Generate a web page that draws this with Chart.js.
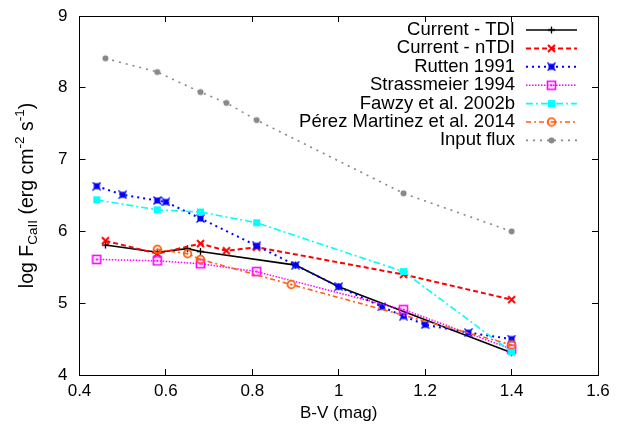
<!DOCTYPE html>
<html><head><meta charset="utf-8">
<script src="https://cdn.jsdelivr.net/npm/chart.js@4/dist/chart.umd.min.js"></script>
<style>html,body{margin:0;padding:0;background:#fff}#wrap{width:625px;height:431px}</style>
</head><body><div id="wrap"><canvas id="c" width="625" height="431"></canvas></div>
<script>
// ---- data ----
const xTicks = [0.4, 0.6, 0.8, 1, 1.2, 1.4, 1.6];
const yTicks = [4, 5, 6, 7, 8, 9];
const seriesNames = ["Current - TDI", "Current - nTDI", "Rutten 1991", "Strassmeier 1994",
  "Fawzy et al. 2002b", "Pérez Martinez et al. 2014", "Input flux"];
const tdiBV = [0.46, 0.58, 0.65, 0.68, 0.90, 1.00, 1.40];
const tdiF  = [5.81, 5.71, 5.76, 5.72, 5.53, 5.23, 4.31];
const ntdiBV = [0.46, 0.58, 0.68, 0.74, 0.81, 1.15, 1.40];
const ntdiF  = [5.87, 5.69, 5.83, 5.73, 5.78, 5.40, 5.05];
const ruttenBV = [0.44, 0.50, 0.58, 0.60, 0.68, 0.81, 0.90, 1.00, 1.10, 1.15, 1.20, 1.30, 1.40];
const ruttenF  = [6.63, 6.51, 6.43, 6.41, 6.18, 5.80, 5.53, 5.23, 4.95, 4.82, 4.70, 4.59, 4.50];
const strassBV = [0.44, 0.58, 0.68, 0.81, 1.15, 1.40];
const strassF  = [5.61, 5.59, 5.55, 5.44, 4.91, 4.36];
const fawzyBV = [0.44, 0.58, 0.68, 0.81, 1.15, 1.40];
const fawzyF  = [6.44, 6.30, 6.27, 6.12, 5.44, 4.32];
const perezBV = [0.58, 0.65, 0.68, 0.89, 1.40];
const perezF  = [5.75, 5.69, 5.61, 5.26, 4.42];
const inputBV = [0.46, 0.58, 0.68, 0.74, 0.81, 1.15, 1.40];
const inputF  = [8.41, 8.22, 7.94, 7.79, 7.55, 6.53, 6.00];

const FONT = "'Liberation Sans', Arial, Helvetica, sans-serif";

// ---- marker images ----
function mk(size, draw) {
  const c = document.createElement('canvas');
  c.width = size; c.height = size;
  const g = c.getContext('2d');
  draw(g, size / 2);
  return c;
}
const mPlus = mk(9, (g, h) => { g.strokeStyle = '#000'; g.lineWidth = 1.3;
  g.beginPath(); g.moveTo(1, h); g.lineTo(8, h); g.moveTo(h, 1); g.lineTo(h, 8); g.stroke(); });
const mX = mk(11, (g, h) => { g.strokeStyle = '#ff0000'; g.lineWidth = 2;
  g.beginPath(); g.moveTo(2, 2); g.lineTo(9, 9); g.moveTo(9, 2); g.lineTo(2, 9); g.stroke(); });
const mStar = mk(9, (g, h) => { g.fillStyle = '#0000ff'; g.fillRect(1.5, 1.5, 6, 6);
  g.strokeStyle = '#0000ff'; g.lineWidth = 1.2; g.beginPath();
  g.moveTo(0.5, 0.5); g.lineTo(8.5, 8.5); g.moveTo(8.5, 0.5); g.lineTo(0.5, 8.5); g.stroke(); });
const mOpenSq = mk(11, (g, h) => { g.strokeStyle = '#ff00ff'; g.lineWidth = 1.6;
  g.strokeRect(1.5, 1.5, 8, 8); g.fillStyle = '#ff00ff'; g.fillRect(4.5, 4.5, 2, 2); });
const mSq = mk(9, (g, h) => { g.fillStyle = '#00ffff'; g.fillRect(1, 1, 7, 7); });
const mOpenC = mk(11, (g, h) => { g.strokeStyle = '#ff6010'; g.lineWidth = 1.8;
  g.beginPath(); g.arc(h, h, 3.8, 0, Math.PI * 2); g.stroke();
  g.fillStyle = '#ff6010'; g.beginPath(); g.arc(h, h, 1, 0, Math.PI * 2); g.fill(); });
const mDot = mk(9, (g, h) => { g.fillStyle = '#888888';
  g.beginPath(); g.arc(h, h, 3, 0, Math.PI * 2); g.fill(); });

function pts(xs, ys) { return xs.map((x, i) => ({ x: x, y: ys[i] })); }

const styles = [
  { c: '#000000', w: 1.6, d: [], m: mPlus },
  { c: '#ff0000', w: 2, d: [5, 3], m: mX },
  { c: '#0000ff', w: 2, d: [2, 4], m: mStar },
  { c: '#ff00ff', w: 1.5, d: [1.5, 1.5], m: mOpenSq },
  { c: '#00ffff', w: 1.6, d: [7, 3, 2, 3], m: mSq },
  { c: '#ff6010', w: 1.6, d: [5, 3, 2, 3], m: mOpenC },
  { c: '#888888', w: 1.6, d: [2, 5], m: mDot }
];
const dataXY = [pts(tdiBV, tdiF), pts(ntdiBV, ntdiF), pts(ruttenBV, ruttenF), pts(strassBV, strassF),
  pts(fawzyBV, fawzyF), pts(perezBV, perezF), pts(inputBV, inputF)];

const datasets = dataXY.map((d, i) => ({
  label: seriesNames[i],
  data: d,
  borderColor: styles[i].c,
  backgroundColor: styles[i].c,
  borderWidth: styles[i].w,
  borderDash: styles[i].d,
  pointStyle: styles[i].m,
  pointRadius: 4,
  tension: 0,
  fill: false,
  order: 10 - i
}));

function fmt(v) { return String(+(+v).toFixed(1)); }

const axisCommon = {
  type: 'linear',
  grid: { display: true, drawOnChartArea: false, drawTicks: true, tickLength: -6, color: '#000', lineWidth: 1 },
  border: { display: true, color: '#000', width: 1 }
};

const chromePlugin = {
  id: 'chrome',
  afterDraw(chart) {
    const ctx = chart.ctx, a = chart.chartArea;
    ctx.save();
    ctx.fillStyle = '#000';
    // x title
    ctx.font = '17px ' + FONT;
    ctx.textAlign = 'center'; ctx.textBaseline = 'middle';
    ctx.fillText('B-V (mag)', (a.left + a.right) / 2, 413);
    // y title with sub/superscripts
    const parts = [
      ['log F', 19.5, 0], ['CaII', 13.5, 5], [' (erg cm', 19.5, 0], ['-2', 13.5, -8],
      [' s', 19.5, 0], ['-1', 13.5, -8], [')', 19.5, 0]
    ];
    let total = 0;
    parts.forEach(p => { ctx.font = p[1] + 'px ' + FONT; p.push(ctx.measureText(p[0]).width); total += p[3]; });
    ctx.translate(28, (a.top + a.bottom) / 2);
    ctx.rotate(-Math.PI / 2);
    ctx.textAlign = 'left'; ctx.textBaseline = 'middle';
    let x = -total / 2;
    parts.forEach(p => { ctx.font = p[1] + 'px ' + FONT; ctx.fillText(p[0], x, p[2]); x += p[3]; });
    ctx.restore();

    // legend
    ctx.save();
    ctx.font = '18.5px ' + FONT;
    ctx.textAlign = 'right'; ctx.textBaseline = 'middle';
    chart.data.datasets.forEach((ds, i) => {
      const y = 30 + i * 18.4;
      ctx.fillStyle = '#000';
      ctx.fillText(ds.label, 515, y);
      ctx.strokeStyle = ds.borderColor;
      ctx.lineWidth = ds.borderWidth;
      ctx.setLineDash(ds.borderDash);
      ctx.beginPath(); ctx.moveTo(526, y); ctx.lineTo(577, y); ctx.stroke();
      ctx.setLineDash([]);
      const m = ds.pointStyle;
      ctx.drawImage(m, 551.5 - m.width / 2, y - m.height / 2);
    });
    ctx.restore();
  }
};

function vFit(w) {
  return s => { s.width = w; s.paddingTop = 0; s.paddingBottom = 0; };
}

new Chart(document.getElementById('c'), {
  type: 'line',
  data: { datasets: datasets },
  options: {
    responsive: false,
    animation: false,
    events: [],
    layout: { padding: { left: 0, right: 27, top: 16, bottom: 0 } },
    plugins: { legend: { display: false }, tooltip: { enabled: false }, title: { display: false } },
    scales: {
      x: Object.assign({}, axisCommon, {
        position: 'bottom', min: 0.4, max: 1.6,
        afterBuildTicks: s => { s.ticks = xTicks.map(v => ({ value: v })); },
        afterFit: s => { s.height = 56; },
        ticks: { color: '#000', font: { family: FONT, size: 17 }, padding: 12, callback: v => fmt(v), maxRotation: 0, autoSkip: false }
      }),
      x2: Object.assign({}, axisCommon, {
        position: 'top', min: 0.4, max: 1.6,
        afterBuildTicks: s => { s.ticks = xTicks.map(v => ({ value: v })); },
        afterFit: s => { s.height = 0; },
        ticks: { display: false }
      }),
      y: Object.assign({}, axisCommon, {
        position: 'left', min: 4, max: 9,
        afterBuildTicks: s => { s.ticks = yTicks.map(v => ({ value: v })); },
        afterFit: vFit(79.5),
        ticks: { color: '#000', font: { family: FONT, size: 17 }, padding: 18, callback: v => fmt(v), autoSkip: false }
      }),
      y2: Object.assign({}, axisCommon, {
        position: 'right', min: 4, max: 9,
        afterBuildTicks: s => { s.ticks = yTicks.map(v => ({ value: v })); },
        afterFit: vFit(0),
        ticks: { display: false }
      })
    }
  },
  plugins: [chromePlugin]
});
</script>
</body></html>
